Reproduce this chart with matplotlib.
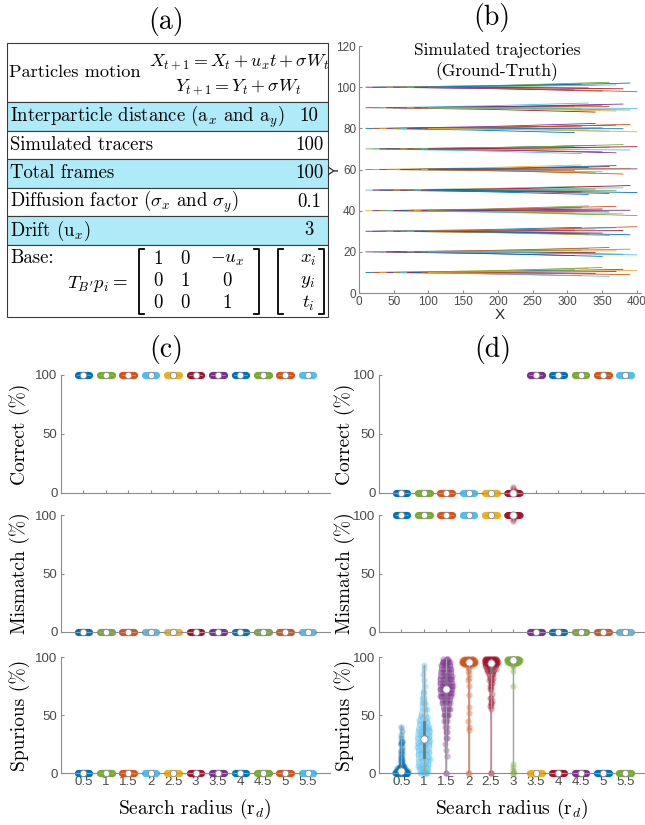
import numpy as np
import matplotlib
matplotlib.use('Agg')
import matplotlib.pyplot as plt
from matplotlib.patches import Rectangle

# ------------------------------------------------------------------ data
table_labels = ['Particles motion',
                'Interparticle distance (a$_x$ and a$_y$)',
                'Simulated tracers',
                'Total frames',
                r'Diffusion factor ($\sigma_x$ and $\sigma_y$)',
                'Drift (u$_x$)',
                'Base:']
table_values = ['', '10', '100', '100', '0.1', '3', '']
eq_x = r'$X_{t+1} = X_t + u_x t + \sigma W_t$'
eq_y = r'$Y_{t+1} = Y_t + \sigma W_t$'
eq_base = r"$T_{B'}p_i =$"
matrix_entries = [['1', '0', '$-u_x$'], ['0', '1', '0'], ['0', '0', '1']]
vector_entries = ['$x_i$', '$y_i$', '$t_i$']

# trajectories (b): grid start positions and read-off lateral offsets
traj_x0 = [10, 20, 30, 40, 50, 60, 70, 80, 90, 100]
traj_y0 = [10, 20, 30, 40, 50, 60, 70, 80, 90, 100]
drift = 3
frames = 100
traj_dy_mid = [
    [0.4, -0.6, 0.7, -0.2, 0.9, -0.8, 0.1, 0.5, -0.3, 0.6],
    [-0.7, 0.3, 0.6, -0.1, -0.9, 0.8, 0.2, -0.4, 0.5, -0.5],
    [0.2, 0.7, -0.5, 0.4, -0.3, -0.8, 0.6, 0.1, -0.6, 0.9],
    [-0.4, 0.5, 0.8, -0.7, 0.3, -0.2, 0.9, -0.5, 0.1, -0.9],
    [0.6, -0.3, -0.8, 0.2, 0.7, -0.6, -0.1, 0.4, 0.8, -0.4],
    [-0.2, 0.8, 0.3, -0.6, -0.4, 0.5, 0.7, -0.8, 0.2, 0.1],
    [0.5, -0.9, 0.2, 0.6, -0.5, 0.3, -0.7, 0.8, -0.2, 0.4],
    [-0.8, 0.4, -0.3, 0.9, 0.1, -0.5, 0.6, -0.1, 0.7, -0.6],
    [0.3, -0.2, 0.9, -0.8, 0.5, 0.2, -0.6, 0.7, -0.4, -0.1],
    [-0.5, 0.6, -0.1, 0.3, -0.7, 0.9, 0.4, -0.3, 0.8, -0.8],
]
traj_dy_end = [
    [1.2, -1.6, 2.0, -0.5, 2.4, -1.9, 0.4, 1.5, -1.1, 0.9],
    [-1.8, 0.8, 1.6, -0.4, -2.2, 2.1, 0.5, -1.2, 1.3, -1.5],
    [0.6, 1.9, -1.4, 1.1, -0.9, -2.0, 1.7, 0.3, -1.7, 2.2],
    [-1.2, 1.4, 2.3, -1.9, 0.8, -0.6, 2.1, -1.5, 0.2, -2.4],
    [1.7, -0.9, -2.1, 0.5, 1.9, -1.6, -0.3, 1.1, 2.2, -1.2],
    [-0.6, 2.2, 0.9, -1.7, -1.1, 1.4, 1.9, -2.2, 0.6, 0.3],
    [1.4, -2.3, 0.6, 1.7, -1.4, 0.8, -1.9, 2.1, -0.5, 1.1],
    [-2.1, 1.1, -0.8, 2.4, 0.3, -1.4, 1.6, -0.2, 1.9, -1.7],
    [0.8, -0.5, 2.3, -2.1, 1.3, 0.6, -1.6, 1.8, -1.1, -0.3],
    [-1.4, 1.6, -0.3, 0.9, -1.9, 2.4, 1.1, -0.8, 2.0, -2.2],
]

radii = ['0.5', '1', '1.5', '2', '2.5', '3', '3.5', '4', '4.5', '5', '5.5']

# (c) every radius gives a constant result
c_correct = [100, 100, 100, 100, 100, 100, 100, 100, 100, 100, 100]
c_mismatch = [0, 0, 0, 0, 0, 0, 0, 0, 0, 0, 0]
c_spurious = [0, 0, 0, 0, 0, 0, 0, 0, 0, 0, 0]

# (d) constant categories (None = distribution given below)
d_correct = [0, 0, 0, 0, 0, None, 100, 100, 100, 100, 100]
d_mismatch = [100, 100, 100, 100, 100, None, 0, 0, 0, 0, 0]
d_spurious = [None, None, None, None, None, None, 0, 0, 0, 0, 0]

d_correct_r3_vals = [0, 2, 3, 5]
d_correct_r3_cnts = [96, 2, 1, 1]
d_mismatch_r3_vals = [95, 97, 98, 100]
d_mismatch_r3_cnts = [1, 1, 2, 96]

sp05_vals = [0, 1, 2, 3, 4, 5, 6, 8, 10, 12, 14, 16, 18, 20, 22, 25, 27, 28, 30, 33, 36, 40]
sp05_cnts = [45, 5, 8, 6, 5, 4, 3, 3, 3, 2, 2, 2, 1, 2, 1, 2, 2, 1, 1, 1, 1, 1]
sp1_vals = [0, 2, 4, 6, 8, 10, 12, 14, 16, 18, 20, 22, 24, 26, 28, 30, 32, 34, 36, 38, 40,
            42, 44, 46, 48, 50, 55, 60, 65, 70, 75, 80, 85, 90, 93]
sp1_cnts = [6, 3, 3, 3, 2, 3, 2, 3, 2, 3, 3, 2, 3, 3, 3, 4, 3, 3, 3, 3, 3,
            2, 2, 2, 2, 2, 3, 3, 2, 2, 1, 1, 1, 1, 1]
sp15_vals = [0, 15, 20, 25, 30, 35, 40, 45, 50, 55, 60, 63, 66, 69, 72, 75, 78, 81, 84, 87, 90, 93, 96, 98]
sp15_cnts = [2, 1, 1, 1, 2, 2, 2, 3, 5, 5, 5, 4, 6, 6, 8, 6, 6, 6, 6, 5, 5, 6, 6, 4]
sp2_vals = [0, 37, 40, 45, 52, 57, 67, 75, 80, 82, 85, 88, 90, 92, 94, 95, 96, 97, 98]
sp2_cnts = [2, 1, 1, 1, 1, 1, 1, 1, 1, 1, 1, 1, 1, 2, 10, 20, 25, 20, 10]
sp25_vals = [0, 55, 58, 60, 62, 65, 68, 72, 75, 78, 80, 82, 85, 88, 90, 92, 94, 95, 96, 97, 98]
sp25_cnts = [2, 1, 2, 2, 1, 2, 1, 2, 2, 2, 2, 2, 3, 3, 4, 5, 8, 10, 12, 15, 15]
sp3_vals = [0, 1, 3, 5, 8, 75, 88, 92, 95, 96, 97, 98]
sp3_cnts = [2, 1, 1, 1, 1, 1, 1, 2, 10, 20, 30, 25]

# ------------------------------------------------------------------ style
BLUE, ORANGE, YELLOW, PURPLE = '#0072BD', '#D95319', '#EDB120', '#7E2F8E'
GREEN, LBLUE, DRED = '#77AC30', '#4DBEEE', '#A2142F'
matlab_cycle = [BLUE, ORANGE, YELLOW, PURPLE, GREEN, LBLUE, DRED]
std_colors = [BLUE, GREEN, ORANGE, LBLUE, YELLOW, DRED, PURPLE, BLUE, GREEN, ORANGE, LBLUE]
d_spur_colors = [BLUE, LBLUE, PURPLE, ORANGE, DRED, GREEN, YELLOW, DRED, PURPLE, BLUE, GREEN]
CYAN = '#aeeaf7'
SPINE = '#8c8c8c'
TICKC = '#4a4a4a'

plt.rcParams['mathtext.fontset'] = 'cm'
plt.rcParams['font.family'] = ['Liberation Sans', 'DejaVu Sans']
plt.rcParams['axes.unicode_minus'] = False
CM = 'cmr10'
TFS = 13.5

W, H = 645, 825
fig = plt.figure(figsize=(W / 100, H / 100), dpi=100)
ov = fig.add_axes([0, 0, 1, 1])
ov.set_xlim(0, W)
ov.set_ylim(H, 0)
ov.axis('off')


def rect(l, t, r, b):
    return [l / W, 1 - b / H, (r - l) / W, (b - t) / H]


# ------------------------------------------------------------------ (a) table
ov.text(166, 22, '(a)', fontsize=20, family=CM, ha='center', va='center')
row_edges = [43, 102, 131, 159, 188, 216, 245, 317]
TL, TR = 7, 328
for i in range(len(table_labels)):
    t, b = row_edges[i], row_edges[i + 1]
    fc = CYAN if i in (1, 3, 5) else 'white'
    ov.add_patch(Rectangle((TL, t), TR - TL, b - t, facecolor=fc,
                           edgecolor='#3a3a3a', lw=0.8, zorder=1))
    if i == 0:
        ov.text(9, 72, table_labels[i], fontsize=13.2, family=CM, va='center', ha='left', zorder=3)
    elif i == 6:
        ov.text(10, 258, table_labels[i], fontsize=TFS, family=CM, va='center', ha='left', zorder=3)
    else:
        ov.text(10, (t + b) / 2, table_labels[i], fontsize=TFS, family=CM,
                va='center', ha='left', zorder=3)
        ov.text(309, (t + b) / 2, table_values[i], fontsize=TFS, family=CM,
                va='center', ha='center', zorder=3)
ov.text(329, 62, eq_x, fontsize=12.9, ha='right', va='center', zorder=3)
ov.text(301, 87, eq_y, fontsize=12.9, ha='right', va='center', zorder=3)
ov.text(128, 284, eq_base, fontsize=TFS, ha='right', va='center', zorder=3)


def bracket(x0, x1, t, b):
    k = 5
    ov.plot([x0 + k, x0, x0, x0 + k], [t, t, b, b], color='black', lw=1.3, zorder=3)
    ov.plot([x1 - k, x1, x1, x1 - k], [t, t, b, b], color='black', lw=1.3, zorder=3)


bracket(139, 259, 249, 314)
bracket(278, 324, 249, 314)
mat_cols = [158, 185, 227]
mat_rows = [259, 281, 303]
for r in range(3):
    for c in range(3):
        ov.text(mat_cols[c], mat_rows[r], matrix_entries[r][c], fontsize=TFS, family=CM,
                ha='center', va='center', zorder=3)
    ov.text(308, mat_rows[r], vector_entries[r], fontsize=TFS, ha='center', va='center', zorder=3)

# ------------------------------------------------------------------ (b) trajectories
ov.text(492, 18, '(b)', fontsize=20, family=CM, ha='center', va='center')
axb = fig.add_axes(rect(359, 46, 641, 293))
k = 0
for ri, y0 in enumerate(traj_y0):
    for ti, x0 in enumerate(traj_x0):
        xe = x0 + drift * frames
        xs = [x0, (x0 + xe) / 2, xe]
        ys = [y0, y0 + traj_dy_mid[ri][ti], y0 + traj_dy_end[ri][ti]]
        axb.plot(xs, ys, color=matlab_cycle[k % 7], lw=0.6)
        k += 1
axb.set_xlim(0, 406)
axb.set_ylim(0, 120)
axb.set_xticks([0, 50, 100, 150, 200, 250, 300, 350, 400])
axb.set_yticks([0, 20, 40, 60, 80, 100, 120])
for s in ('top', 'right'):
    axb.spines[s].set_visible(False)
for s in ('left', 'bottom'):
    axb.spines[s].set_color(SPINE)
    axb.spines[s].set_linewidth(0.8)
axb.tick_params(direction='in', length=2.5, color=SPINE, labelcolor=TICKC, labelsize=8.5, pad=2)
axb.text(0.49, 0.984, 'Simulated trajectories', transform=axb.transAxes, fontsize=12.5,
         family=CM, ha='center', va='center')
axb.text(0.49, 0.895, '(Ground-Truth)', transform=axb.transAxes, fontsize=12.5,
         family=CM, ha='center', va='center')
ov.text(500, 315, 'X', fontsize=11, ha='center', va='center', color='#262626')
ov.text(335, 170, 'Y', fontsize=11, ha='center', va='center', rotation=90, color='#262626')


# ------------------------------------------------------------------ violins
def expand(vals, cnts):
    return np.repeat(np.asarray(vals, float), cnts)


def draw_violin(ax, pos, data, color, bw=2.0, hw=0.36):
    data = np.sort(np.asarray(data, float))
    med = np.median(data)
    if np.ptp(data) == 0:
        ax.plot([pos - 0.26, pos + 0.26], [med, med], color=color, lw=5.2,
                solid_capstyle='round', zorder=2, clip_on=False)
        ax.plot([pos - 0.3, pos + 0.3], [med, med], color='#a8a8a8', lw=0.5, zorder=3, clip_on=False)
        ax.plot(pos, med, 'o', ms=4.6, mfc='white', mec='#8c8c8c', mew=0.6, zorder=4, clip_on=False)
        return
    yg = np.linspace(data.min(), data.max(), 300)
    dg = np.exp(-0.5 * ((yg[:, None] - data[None, :]) / bw) ** 2).sum(1)
    mx = dg.max()
    dg = dg / mx * hw
    ax.fill_betweenx(yg, pos - dg, pos + dg, facecolor=color, alpha=0.28, lw=0, zorder=1, clip_on=False)
    ax.plot(pos - dg, yg, color=color, lw=0.5, alpha=0.5, zorder=1, clip_on=False)
    ax.plot(pos + dg, yg, color=color, lw=0.5, alpha=0.5, zorder=1, clip_on=False)
    dp = np.exp(-0.5 * ((data[:, None] - data[None, :]) / bw) ** 2).sum(1) / mx * hw
    jit = ((np.arange(len(data)) + 1) * 0.618034) % 1 * 2 - 1
    ax.scatter(pos + jit * dp * 0.85, data, s=20, color=color, alpha=0.35, lw=0,
               zorder=2, clip_on=False)
    ax.plot([pos, pos], [data.min(), data.max()], color='#a0a0a0', lw=1.0, zorder=3, clip_on=False)
    q1, q3 = np.percentile(data, [25, 75])
    ax.plot([pos, pos], [q1, q3], color='#777777', lw=2.0, zorder=3, clip_on=False)
    ax.plot(pos, med, 'o', ms=5.2, mfc='white', mec='#8c8c8c', mew=0.6, zorder=4, clip_on=False)


def style_axes(ax, xmax, bottom):
    ax.set_xlim(0, xmax)
    ax.set_ylim(0, 100)
    ax.set_yticks([0, 50, 100])
    ax.set_xticks(range(1, 12))
    if bottom:
        ax.set_xticklabels(radii)
    else:
        ax.set_xticklabels([])
    for s in ('top', 'right'):
        ax.spines[s].set_visible(False)
    for s in ('left', 'bottom'):
        ax.spines[s].set_color(SPINE)
        ax.spines[s].set_linewidth(0.8)
    ax.tick_params(direction='in', length=2.5, color=SPINE, labelcolor=TICKC,
                   labelsize=9.5, pad=2.5)
    ax.patch.set_alpha(0)


rows_px = [(375, 493), (515, 632), (657, 773)]
ylabels = ['Correct (%)', 'Mismatch (%)', 'Spurious (%)']

c_sets = [c_correct, c_mismatch, c_spurious]
for r, (t, b) in enumerate(rows_px):
    ax = fig.add_axes(rect(61, t, 330, b))
    style_axes(ax, 12, r == 2)
    for i, v in enumerate(c_sets[r]):
        draw_violin(ax, i + 1, [v, v], std_colors[i])
    ov.text(20, (t + b) / 2, ylabels[r], fontsize=14, family=CM, rotation=90,
            ha='center', va='center')

d_sets = [d_correct, d_mismatch, d_spurious]
d_dists = [
    {5: (expand(d_correct_r3_vals, d_correct_r3_cnts), 1.5)},
    {5: (expand(d_mismatch_r3_vals, d_mismatch_r3_cnts), 1.5)},
    {0: (expand(sp05_vals, sp05_cnts), 2.5),
     1: (expand(sp1_vals, sp1_cnts), 7.0),
     2: (expand(sp15_vals, sp15_cnts), 7.0),
     3: (expand(sp2_vals, sp2_cnts), 2.5),
     4: (expand(sp25_vals, sp25_cnts), 7.0),
     5: (expand(sp3_vals, sp3_cnts), 2.0)},
]
for r, (t, b) in enumerate(rows_px):
    ax = fig.add_axes(rect(379, t, 645, b))
    style_axes(ax, 11.88, r == 2)
    cols = d_spur_colors if r == 2 else std_colors
    for i, v in enumerate(d_sets[r]):
        if v is None:
            data, bw = d_dists[r][i]
            draw_violin(ax, i + 1, data, cols[i], bw=bw)
        else:
            draw_violin(ax, i + 1, [v, v], cols[i])
    ov.text(345, (t + b) / 2, ylabels[r], fontsize=14, family=CM, rotation=90,
            ha='center', va='center')

ov.text(166, 350, '(c)', fontsize=20, family=CM, ha='center', va='center')
ov.text(493, 350, '(d)', fontsize=20, family=CM, ha='center', va='center')
ov.text(195, 809, 'Search radius (r$_d$)', fontsize=14, family=CM, ha='center', va='center')
ov.text(512, 809, 'Search radius (r$_d$)', fontsize=14, family=CM, ha='center', va='center')

fig.savefig('out.png', dpi=100)
